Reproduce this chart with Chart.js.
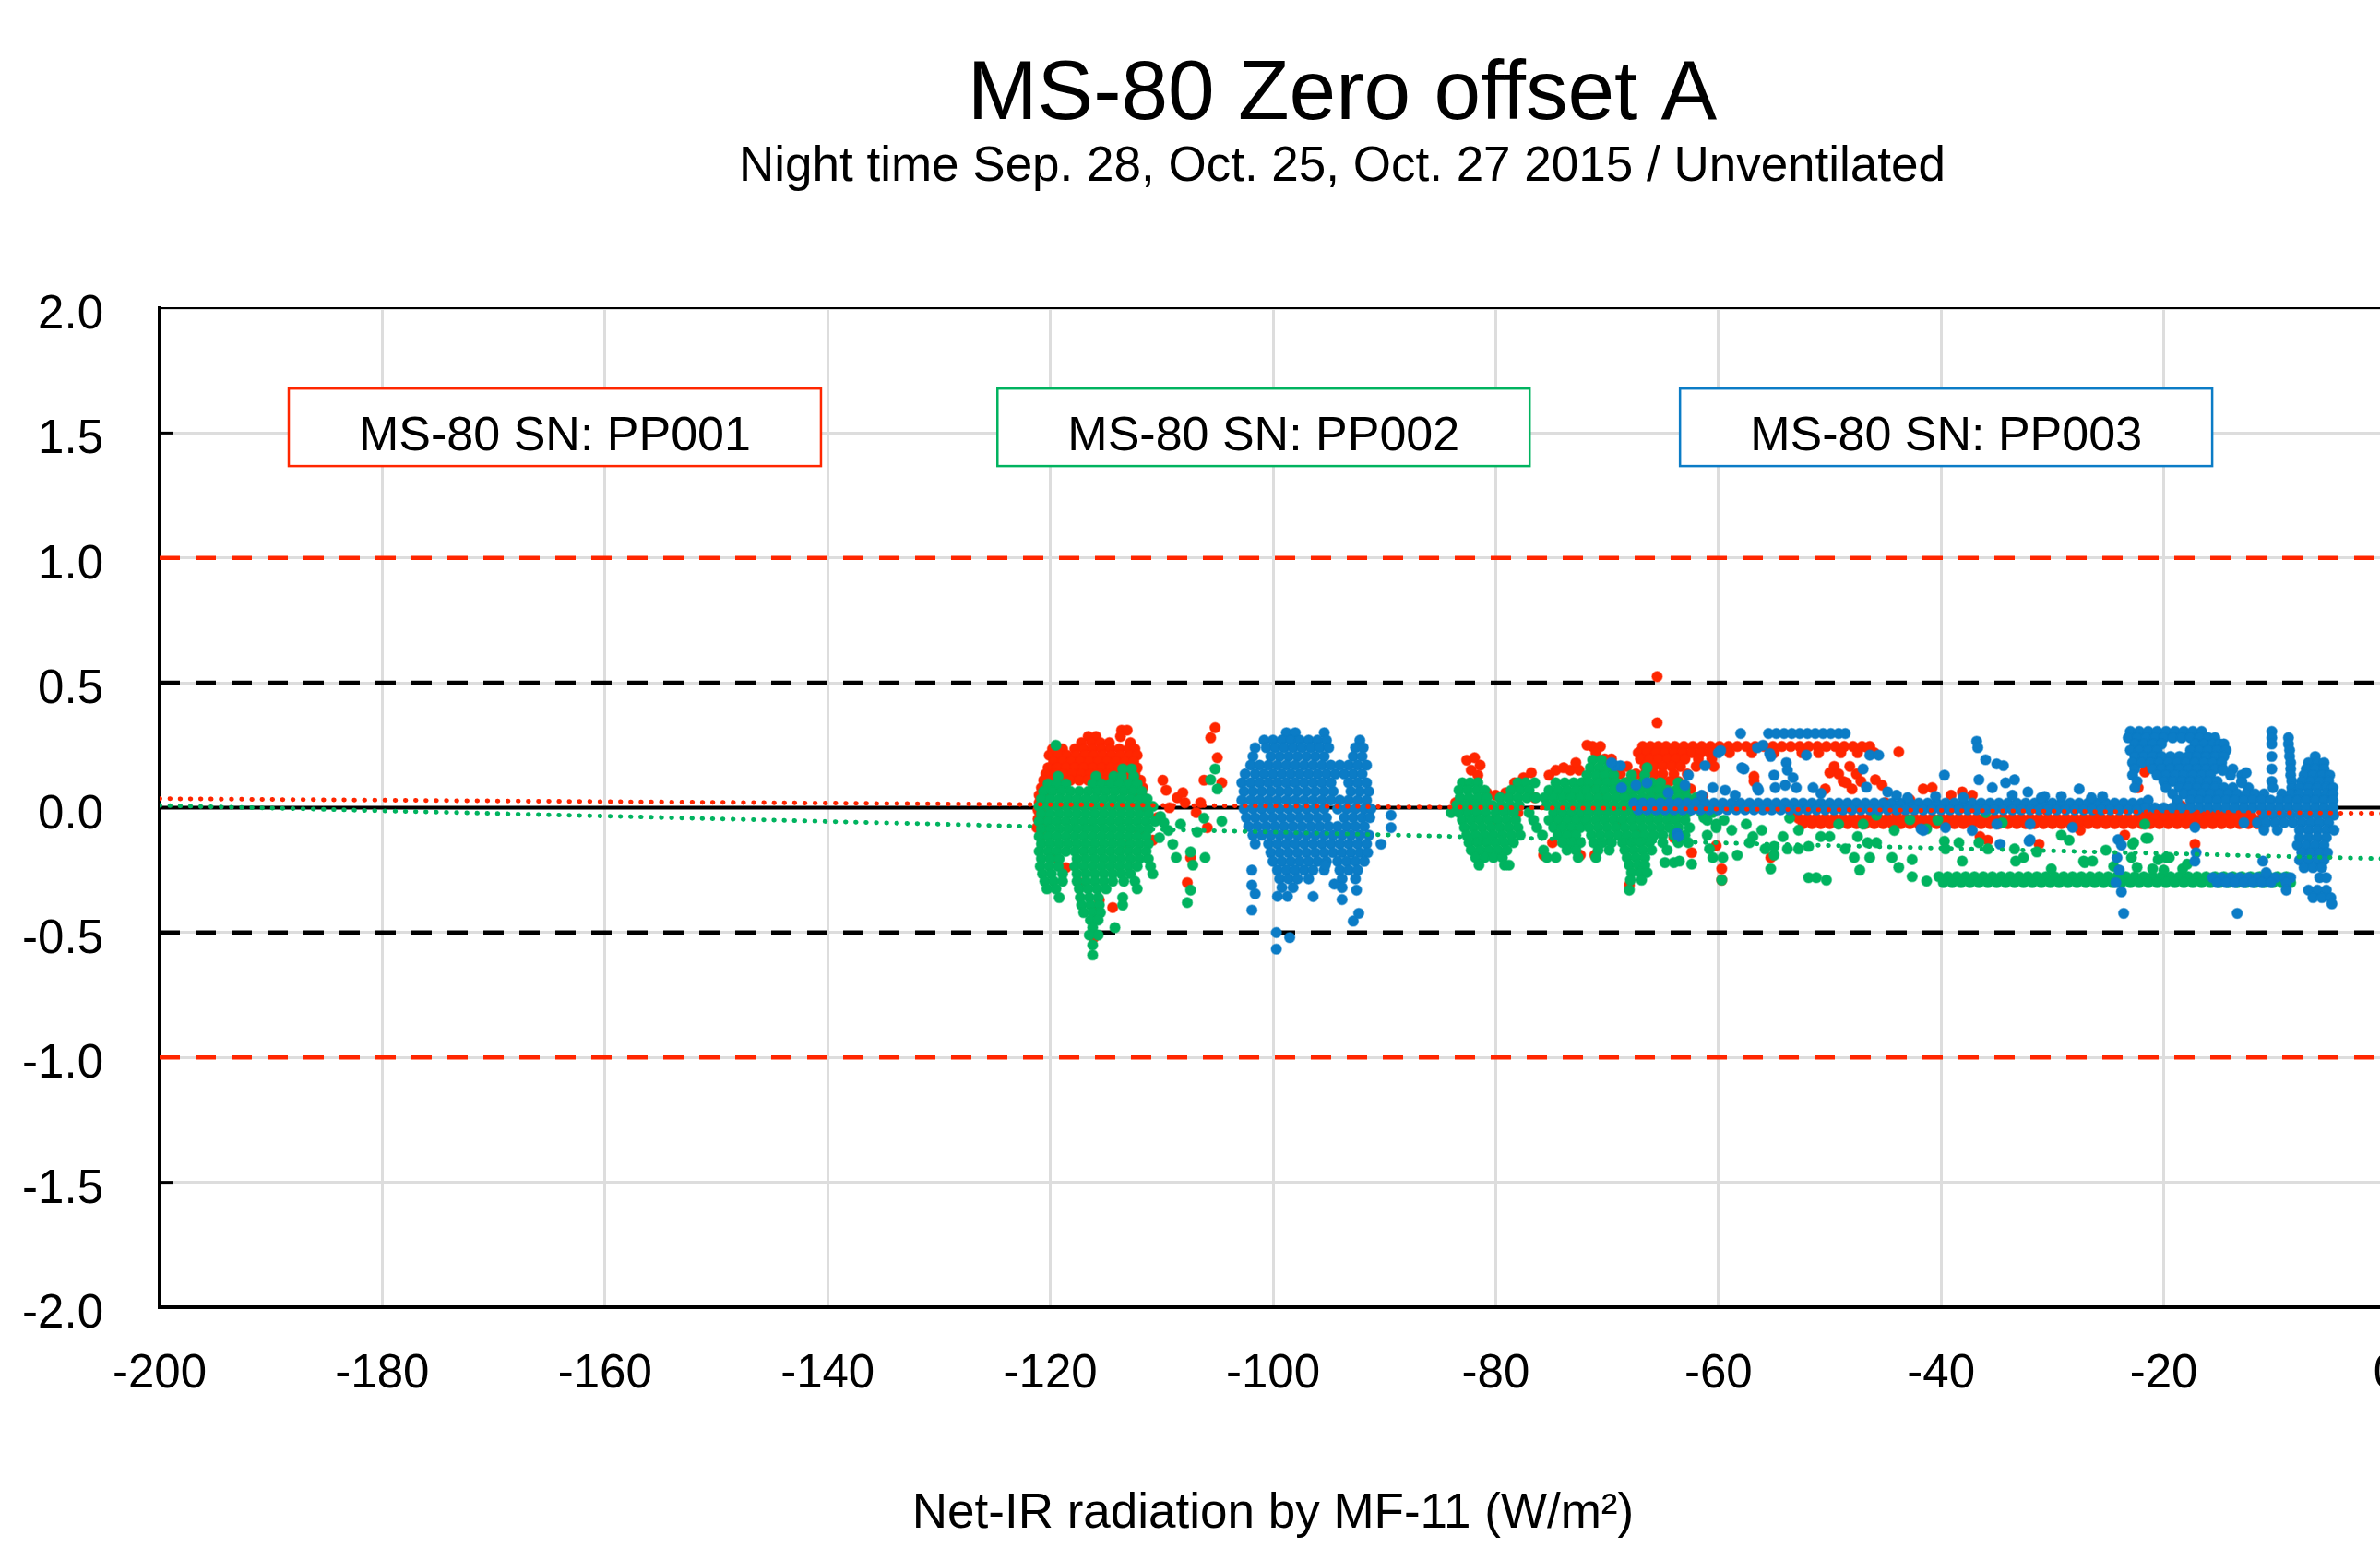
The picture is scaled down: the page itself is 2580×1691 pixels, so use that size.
<!DOCTYPE html>
<html>
<head>
<meta charset="utf-8">
<script src="https://cdn.jsdelivr.net/npm/chart.js@4.4.1/dist/chart.umd.min.js"></script>
<style>
html,body{margin:0;padding:0;background:#fff;overflow:hidden;}
#frame{position:relative;width:2580px;height:1691px;overflow:hidden;background:#fff;}
#c{position:absolute;left:0;top:0;}
</style>
</head>
<body>
<div id="frame"><canvas id="c" width="2910" height="1691" style="width:2910px;height:1691px"></canvas></div>
<script>
// ---------- DATA ----------
const titleText = 'MS-80 Zero offset A';
const subtitleText = 'Night time Sep. 28, Oct. 25, Oct. 27 2015 / Unventilated';
const xAxisTitle = 'Net-IR radiation by MF-11 (W/m²)';
const seriesLabels = ['MS-80 SN: PP001', 'MS-80 SN: PP002', 'MS-80 SN: PP003'];
const xTickRange = [-200, 0, 20];      // min, max, step
const yTickRange = [-2, 2, 0.5];

// Horizontal reference levels
const redLimitLevels = [1, -1];
const blackLimitLevels = [0.5, -0.5];
const zeroLevels = [0];

// Linear trend lines (end points)
const trendPP001 = [[-200, 0.036], [0, -0.023]];
const trendPP002 = [[-200, 0.009], [0, -0.205]];

// Rows: [y, x1, x2, ...]   Pairs: [x, y]
const redRows = [
 [0.31, -113.6, -113.1],
 [0.285, -116.6, -115.9, -113.7],
 [0.26, -117.2, -116.3, -115.5, -114.7, -112.8],
 [0.235, -119.8, -118.9, -117.8, -117.0, -116.2, -115.4, -114.6, -113.8, -113.0, -112.4],
 [0.21, -120.1, -119.3, -118.5, -117.7, -116.9, -116.1, -115.3, -114.5, -113.7, -112.9, -112.2],
 [0.185, -119.7, -118.9, -118.1, -117.3, -116.5, -115.7, -114.9, -114.1, -113.3, -112.5],
 [0.16, -120.2, -119.4, -118.6, -117.8, -117.0, -116.2, -115.4, -114.6, -113.8, -113.0, -112.2],
 [0.135, -120.4, -119.6, -118.8, -118.0, -117.2, -116.4, -115.6, -114.8, -114.0, -113.2, -112.4],
 [0.11, -120.6, -119.8, -119.0, -118.2, -117.4, -116.6, -115.8, -115.0, -114.2, -113.4, -112.6, -111.9],
 [0.08, -120.8, -120.0, -119.2, -113.0, -112.3, -111.7],
 [0.05, -121.0, -120.3, -112.5, -111.8],
 [0.02, -121.0, -120.4, -111.6],
 [-0.01, -121.1, -120.5, -111.5],
 [-0.045, -121.1, -120.5],
 [-0.08, -121.2, -120.6],
 [-0.115, -120.9],
 [0.245, -71.3, -70.6, -66.8, -66.1, -65.4, -64.7, -63.9, -63.1, -62.3, -61.5, -60.7, -59.9, -59.1, -58.3, -57.5, -56.7, -55.9, -55.1, -54.3, -53.5, -52.7, -51.9, -51.1, -50.3, -49.5, -48.7, -47.9, -47.1, -46.4],
 [0.22, -71.0, -67.2, -66.4, -65.6, -64.8, -64.0, -63.2, -62.4, -61.6, -60.8, -59.0, -57.0, -55.0, -52.5, -51.0, -49.0, -47.5, -46.0],
 [0.195, -70.2, -69.6, -67.0, -66.2, -65.4, -64.6, -63.8, -63.0, -61.8, -60.6],
 [0.165, -69.4, -68.2, -66.6, -65.8, -65.0, -64.2, -63.4, -62.0, -60.4, -49.6, -48.2],
 [0.135, -70.5, -68.8, -67.4, -66.6, -65.8, -65.0, -64.0, -62.8, -49.2, -47.6],
 [0.105, -69.8, -68.0, -66.8, -65.2, -64.4, -63.6, -56.8, -48.8, -47.2],
 [0.075, -71.0, -69.2, -67.6, -65.8, -64.8, -62.5, -50.4, -48.0],
 [0.045, -70.2, -68.4, -66.0, -63.2, -61.4],
 [-0.025, -21.8, -21.0, -20.2, -19.4, -18.6, -17.8, -17.0, -16.2, -15.4, -14.6, -13.8, -13.0, -12.2],
 [-0.043, -52.8, -52.0, -51.2, -50.4, -49.6, -48.8, -48.0, -47.2, -46.4, -45.6, -44.8, -44.0, -43.2, -42.4, -41.6, -40.8, -40.0, -39.2, -38.4, -37.6, -36.8, -36.0, -35.2, -34.4, -33.6, -32.8, -32.0, -31.2, -30.4, -29.6, -28.8, -28.0, -27.2, -26.4, -25.6, -24.8, -24.0, -23.2, -22.4, -21.6, -20.8, -20.0, -19.2, -18.4, -17.6, -16.8, -16.0, -15.2, -14.4, -13.6, -12.8, -12.0, -11.2],
 [-0.064, -52.4, -51.6, -50.8, -50.0, -49.2, -48.4, -47.6, -46.8, -46.0, -45.2, -44.4, -43.6, -42.8, -42.0, -41.2, -40.4, -39.6, -38.8, -38.0, -37.2, -36.4, -35.6, -34.8, -34.0, -33.2, -32.4, -31.6, -30.8, -30.0, -29.2, -28.4, -27.6, -26.8, -26.0, -25.2, -24.4, -23.6, -22.8, -22.0, -21.2, -20.4, -19.6, -18.8, -18.0, -17.2, -16.4, -15.6, -14.8, -14.0, -13.2, -12.4, -11.6]
];
const redPairs = [
 [-109.9, 0.11], [-109.6, 0.07], [-108.6, 0.04], [-108.1, 0.06], [-107.9, 0.02], [-106.5, 0.02], [-106.2, 0.11],
 [-105.2, 0.32], [-105.6, 0.28], [-105.0, 0.20], [-104.6, 0.10], [-107.7, -0.30], [-107.4, -0.20], [-110.8, -0.13],
 [-110.4, -0.04], [-109.3, 0.0], [-106.9, -0.02], [-105.9, -0.08], [-118.6, -0.24], [-119.6, -0.2], [-116.0, -0.41],
 [-115.6, -0.37], [-114.4, -0.40], [-116.1, -0.52], [-117.4, -0.3], [-113.0, -0.15], [-112.0, -0.1],
 [-83.6, 0.02], [-82.9, 0.0], [-82.6, 0.19], [-81.9, 0.2], [-81.4, 0.17], [-82.2, 0.15], [-81.6, 0.13], [-80.8, 0.06],
 [-80.0, 0.05], [-79.1, 0.06], [-78.3, 0.10], [-77.5, 0.12], [-76.8, 0.14], [-75.2, 0.13], [-74.6, 0.15], [-73.9, 0.16],
 [-73.3, 0.15], [-72.5, 0.15], [-72.8, 0.18], [-71.8, 0.25], [-80.2, -0.05], [-74.9, -0.14], [-75.7, -0.19],
 [-72.4, -0.19], [-73.0, -0.1], [-78.0, -0.02], [-76.5, 0.04],
 [-65.5, 0.525], [-65.5, 0.34], [-69.1, -0.066], [-67.0, -0.1], [-62.4, -0.18], [-59.7, -0.245], [-59.7, -0.29], [-68.0, -0.31],
 [-71.1, -0.19], [-60.2, -0.152], [-55.3, -0.20], [-64.0, -0.12], [-57.5, 0.0], [-53.0, -0.03], [-50.0, 0.14],
 [-48.5, 0.10], [-46.6, 0.24], [-45.9, 0.112], [-45.3, 0.09], [-43.8, 0.223], [-41.6, 0.075], [-40.8, 0.08],
 [-39.1, 0.05], [-38.1, 0.063], [-37.2, 0.05], [-42.8, 0.032], [-36.5, -0.116], [-35.8, -0.13], [-31.2, -0.146],
 [-23.5, -0.11], [-17.2, -0.146], [-21.7, 0.143], [-21.7, 0.18], [-22.3, 0.08], [-18.4, 0.007], [-56.8, 0.125],
 [-45.0, 0.02], [-44.0, -0.02], [-30.5, -0.01], [-26.0, -0.02], [-27.5, -0.09], [-21.9, -0.04]
];

const greenRows = [
 [0.155, -113.5, -112.7],
 [0.125, -119.3, -115.9, -114.3, -113.6, -112.5],
 [0.095, -120.2, -119.4, -118.6, -116.2, -115.4, -114.6, -113.8, -113.0, -112.2],
 [0.065, -120.6, -119.8, -119.0, -118.2, -117.4, -116.6, -115.8, -115.0, -114.2, -113.4, -112.6, -111.8],
 [0.035, -120.8, -120.0, -119.2, -118.4, -117.6, -116.8, -116.0, -115.2, -114.4, -113.6, -112.8, -112.0, -111.3],
 [0.005, -121.0, -120.2, -119.4, -118.6, -117.8, -117.0, -116.2, -115.4, -114.6, -113.8, -113.0, -112.2, -111.4, -110.8],
 [-0.025, -120.8, -120.0, -119.2, -118.4, -117.6, -116.8, -116.0, -115.2, -114.4, -113.6, -112.8, -112.0, -111.2],
 [-0.055, -121.0, -120.2, -119.4, -118.6, -117.8, -117.0, -116.2, -115.4, -114.6, -113.8, -113.0, -112.2, -111.4, -110.6],
 [-0.085, -120.8, -120.0, -119.2, -118.4, -117.6, -116.8, -116.0, -115.2, -114.4, -113.6, -112.8, -112.0, -111.2],
 [-0.115, -121.0, -120.2, -119.4, -118.6, -117.8, -117.0, -116.2, -115.4, -114.6, -113.8, -113.0, -112.2, -111.4],
 [-0.145, -120.8, -120.0, -119.2, -118.4, -117.6, -116.8, -116.0, -115.2, -114.4, -113.6, -112.8, -112.0, -111.2],
 [-0.175, -121.0, -120.2, -119.4, -118.6, -117.8, -117.0, -116.2, -115.4, -114.6, -113.8, -113.0, -112.2, -111.4],
 [-0.205, -120.8, -120.0, -119.2, -117.6, -116.8, -116.0, -115.2, -114.4, -113.6, -112.8, -112.0, -111.2],
 [-0.235, -120.9, -120.1, -119.3, -117.8, -117.0, -116.2, -115.4, -114.6, -113.8, -113.0, -112.2, -111.0],
 [-0.265, -120.7, -119.9, -118.9, -117.6, -116.8, -116.0, -115.2, -114.4, -113.6, -112.8, -110.8],
 [-0.295, -120.5, -119.7, -118.9, -117.6, -116.8, -116.0, -115.2, -114.4, -113.4, -112.4],
 [-0.325, -120.3, -119.5, -117.4, -116.6, -115.8, -115.0, -112.2],
 [-0.36, -119.2, -117.3, -116.5, -115.7, -113.5],
 [-0.39, -117.2, -116.4, -115.6, -113.5],
 [-0.42, -117.0, -116.2, -115.5],
 [-0.45, -116.4, -115.7],
 [-0.48, -116.2, -114.2],
 [-0.51, -116.5, -115.7],
 [-0.55, -116.2],
 [-0.59, -116.2],
 [0.10, -83.0, -82.3, -81.6, -78.0, -77.3, -76.5, -74.6, -73.8, -73.0, -72.3],
 [0.07, -83.3, -82.5, -81.7, -81.0, -78.6, -77.8, -77.0, -75.2, -74.4, -73.6, -72.8, -72.0],
 [0.04, -83.2, -82.4, -81.6, -80.8, -79.6, -78.8, -78.0, -77.2, -76.4, -75.6, -74.8, -74.0, -73.2, -72.4],
 [0.01, -83.5, -82.7, -81.9, -81.1, -80.3, -79.5, -78.7, -77.9, -75.4, -74.6, -73.8, -73.0, -72.2],
 [-0.02, -84.0, -83.3, -82.5, -81.7, -80.9, -80.0, -79.2, -78.4, -77.0, -74.8, -74.0, -73.2, -72.4],
 [-0.05, -83.0, -82.2, -81.4, -80.6, -79.8, -79.0, -78.2, -76.6, -75.2, -74.4, -73.6, -72.8, -72.0],
 [-0.08, -82.8, -82.0, -81.2, -80.4, -79.6, -78.8, -78.0, -76.3, -74.8, -74.0, -73.2, -72.4],
 [-0.11, -82.6, -81.8, -81.0, -80.2, -79.4, -78.6, -77.8, -75.8, -74.4, -73.6, -72.8],
 [-0.14, -82.4, -81.6, -80.8, -80.0, -79.2, -78.4, -74.0, -73.2, -72.4],
 [-0.17, -82.2, -81.4, -80.6, -79.8, -79.0, -75.7, -73.6, -72.8],
 [-0.20, -81.8, -81.0, -80.2, -79.4, -75.4, -74.6, -72.6],
 [-0.23, -81.5, -79.2, -78.8],
 [0.19, -71.3, -70.5],
 [0.16, -71.5, -70.7, -69.9, -66.4],
 [0.13, -71.8, -71.0, -70.2, -69.4, -67.8, -66.6],
 [0.10, -71.6, -70.8, -70.0, -69.2, -68.4, -67.6, -66.8, -66.0, -65.2, -63.6],
 [0.07, -71.8, -71.0, -70.2, -69.4, -68.6, -67.8, -67.0, -66.2, -65.4, -64.6, -63.8, -63.0],
 [0.04, -71.6, -70.8, -70.0, -69.2, -68.4, -67.6, -66.8, -66.0, -65.2, -64.4, -63.6, -62.8, -62.0],
 [0.01, -71.8, -71.0, -70.2, -69.4, -68.6, -67.8, -67.0, -66.2, -65.4, -64.6, -63.8, -63.0],
 [-0.02, -71.6, -70.8, -70.0, -69.2, -68.4, -67.6, -66.8, -66.0, -65.2, -64.4, -63.6, -62.8, -61.5, -60.5],
 [-0.05, -71.8, -71.0, -70.2, -69.4, -68.6, -67.8, -67.0, -66.2, -65.4, -64.6, -63.8, -63.0, -61.0, -59.5],
 [-0.08, -71.6, -70.8, -70.0, -69.2, -68.4, -67.6, -66.8, -66.0, -65.2, -64.4, -63.6, -62.6, -60.2],
 [-0.11, -71.4, -70.6, -69.8, -69.0, -68.2, -67.4, -66.6, -65.8, -65.0, -64.0, -63.0, -61.0],
 [-0.14, -71.2, -70.4, -69.6, -68.6, -67.8, -67.0, -66.2, -65.0, -63.6],
 [-0.17, -70.8, -69.8, -68.4, -67.6, -66.8, -66.0, -64.6],
 [-0.20, -71.0, -68.2, -67.4, -66.6],
 [-0.22, -64.8, -64.0],
 [-0.23, -68.0, -67.2, -66.6],
 [-0.26, -67.8, -67.0, -66.4],
 [-0.29, -67.9, -66.9],
 [-0.33, -68.0],
 [-0.276, -40.2, -39.4, -38.6, -37.8, -37.0, -36.2, -35.4, -34.6, -33.8, -33.0, -32.2, -31.4, -30.6, -29.8, -29.0, -28.2, -27.4, -26.6, -25.8, -25.0, -24.2, -23.4, -22.6, -21.8, -21.0, -20.2, -19.4, -18.6, -17.8, -17.0, -16.2, -15.4, -14.6, -13.8, -13.0, -12.2, -11.4, -10.6, -9.8, -9.0],
 [-0.300, -39.8, -39.0, -38.2, -37.4, -36.6, -35.8, -35.0, -34.2, -33.4, -32.6, -31.8, -31.0, -30.2, -29.4, -28.6, -27.8, -27.0, -26.2, -25.4, -24.6, -23.8, -23.0, -22.2, -21.4, -20.6, -19.8, -19.0, -18.2, -17.4, -16.6, -15.8, -15.0, -14.2, -13.4, -12.6, -11.8, -11.0, -10.2, -9.4, -8.6]
];
const greenPairs = [
 [-119.5, 0.25],
 [-105.2, 0.155], [-105.6, 0.112], [-105.0, 0.075], [-104.6, -0.054], [-106.2, -0.042], [-106.8, -0.097],
 [-107.4, -0.177], [-108.7, -0.2], [-107.2, -0.23], [-107.4, -0.33], [-107.7, -0.38], [-109.0, -0.146],
 [-109.4, -0.091], [-110.1, -0.035], [-108.3, -0.066], [-106.1, -0.2], [-110.2, -0.12], [-109.8, -0.06],
 [-61.3, -0.04], [-60.2, -0.066], [-60.8, -0.165], [-60.5, -0.2], [-59.6, -0.2], [-59.7, -0.29], [-58.8, -0.09],
 [-58.3, -0.19], [-57.5, -0.066], [-56.9, -0.116], [-56.1, -0.09], [-55.3, -0.245], [-55.0, -0.19], [-54.2, -0.116],
 [-53.6, -0.042], [-52.8, -0.09], [-51.9, -0.28], [-51.2, -0.28], [-50.3, -0.29], [-50.8, -0.116], [-50.0, -0.116],
 [-49.2, -0.066], [-48.6, -0.165], [-47.8, -0.2], [-47.3, -0.25], [-47.5, -0.116], [-57.2, -0.14], [-62.7, -0.14],
 [-63.5, -0.214], [-62.4, -0.226], [-55.8, -0.165], [-55.0, -0.155], [-52.8, -0.165], [-51.9, -0.155], [-53.8, -0.165],
 [-47.0, -0.066], [-44.2, -0.091], [-46.6, -0.14], [-45.8, -0.14], [-46.4, -0.2], [-44.4, -0.2], [-43.8, -0.239],
 [-42.6, -0.208], [-42.6, -0.276], [-41.3, -0.294], [-39.7, -0.134], [-39.6, -0.165], [-38.4, -0.14], [-38.1, -0.214],
 [-36.6, -0.14], [-35.8, -0.165], [-33.4, -0.165], [-32.6, -0.2], [-33.3, -0.214], [-31.4, -0.177], [-30.1, -0.245],
 [-29.2, -0.11], [-27.2, -0.214], [-26.4, -0.214], [-22.7, -0.14], [-22.9, -0.2], [-22.4, -0.239], [-42.8, -0.048],
 [-41.3, -0.085], [-21.7, -0.066], [-21.6, -0.122], [-20.5, -0.208], [-19.5, -0.2], [-21.0, -0.245], [-18.3, -0.245],
 [-45.8, -0.03], [-40.3, -0.05], [-36.0, -0.02], [-34.5, -0.06], [-28.5, -0.13], [-25.2, -0.17], [-24.5, -0.235],
 [-20.0, -0.25], [-27.1, -0.22], [-22.8, -0.146], [-21.4, -0.122], [-19.8, -0.2], [-17.9, -0.226]
];

const blueRows = [
 [0.30, -98.8, -98.0, -95.4],
 [0.27, -100.8, -100.0, -99.2, -98.4, -97.6, -96.8, -96.0, -95.2, -92.2],
 [0.24, -101.6, -100.6, -99.8, -99.0, -98.2, -97.4, -96.6, -95.8, -95.0, -92.6, -91.9],
 [0.205, -101.8, -100.2, -99.4, -98.6, -97.8, -97.0, -96.2, -95.4, -92.8, -92.0],
 [0.17, -102.0, -101.2, -100.4, -99.6, -98.8, -98.0, -97.2, -96.4, -95.6, -94.8, -94.0, -93.2, -92.4, -91.6],
 [0.135, -102.5, -101.6, -100.8, -100.0, -99.2, -98.4, -97.6, -96.8, -96.0, -95.2, -94.4, -93.6, -92.8, -92.0],
 [0.10, -102.8, -102.0, -101.2, -100.4, -99.6, -98.8, -98.0, -97.2, -96.4, -95.6, -94.8, -93.2, -92.4, -91.6],
 [0.065, -102.6, -101.8, -101.0, -100.2, -99.4, -98.6, -97.8, -97.0, -96.2, -95.4, -94.6, -93.0, -92.2, -91.4],
 [0.03, -102.8, -102.0, -101.2, -100.4, -99.6, -98.8, -98.0, -97.2, -96.4, -95.6, -94.8, -94.0, -93.2, -92.4, -91.6],
 [-0.005, -102.6, -101.8, -101.0, -100.2, -99.4, -98.6, -97.8, -97.0, -96.2, -95.4, -94.2, -93.4, -92.6, -91.8, -91.2],
 [-0.04, -102.4, -101.6, -100.8, -100.0, -99.2, -98.4, -97.6, -96.8, -96.0, -95.2, -93.6, -92.8, -92.0, -91.3],
 [-0.075, -102.2, -101.4, -100.6, -99.8, -99.0, -98.2, -97.4, -96.6, -95.8, -95.0, -94.2, -93.4, -92.6, -91.8],
 [-0.11, -101.8, -101.0, -100.2, -99.4, -98.6, -97.8, -97.0, -96.2, -95.4, -94.6, -93.8, -93.0, -92.2, -91.4],
 [-0.145, -101.6, -100.4, -99.6, -98.8, -98.0, -97.2, -96.4, -95.6, -94.8, -94.0, -93.2, -92.4, -91.6],
 [-0.18, -100.2, -99.4, -98.6, -97.8, -97.0, -96.2, -95.4, -94.6, -93.8, -93.0, -92.2, -91.5],
 [-0.215, -100.0, -99.2, -98.4, -97.6, -96.8, -96.0, -95.2, -94.2, -93.4, -92.6, -91.8],
 [-0.25, -99.6, -98.8, -98.0, -97.2, -96.4, -95.4, -94.0, -93.2, -92.4],
 [-0.285, -99.4, -98.6, -97.8, -96.8, -93.8, -92.6],
 [-0.32, -99.2, -98.2, -93.8],
 [-0.355, -99.6, -98.7],
 [0.297, -58.0, -55.5, -54.8, -54.1, -53.4, -52.7, -52.0, -51.3, -50.6, -49.9, -49.2, -48.6],
 [0.018, -67.6, -66.8, -66.0, -65.2, -64.4, -63.6, -62.8, -62.0, -61.2, -60.4, -59.6, -58.8, -58.0, -57.2, -56.4, -55.6, -54.8, -54.0, -53.2, -52.4, -51.6, -50.8, -50.0, -49.2, -48.4, -47.6, -46.8, -46.0, -45.2, -44.4, -43.6, -42.8, -42.0, -41.2, -40.4, -39.6, -38.8, -38.0, -37.2, -36.4, -35.6, -34.8, -34.0, -33.2, -32.4, -31.6, -30.8, -30.0, -29.2, -28.4, -27.6, -26.8, -26.0, -25.2, -24.4, -23.6, -22.8, -22.0],
 [-0.008, -67.2, -66.4, -65.6, -64.8, -64.0, -63.2, -62.4, -61.6, -60.8, -60.0, -59.2, -58.4, -57.6, -56.8, -56.0, -55.2, -54.4, -53.6, -52.8, -52.0, -51.2, -50.4, -49.6, -48.8, -48.0, -47.2, -46.4, -45.6, -44.8, -44.0, -43.2, -42.4, -41.6, -40.8, -40.0, -39.2, -38.4, -37.6, -36.8, -36.0, -35.2, -34.4, -33.6, -32.8, -32.0, -31.2, -30.4, -29.6, -28.8, -28.0, -27.2, -26.4, -25.6, -24.8, -24.0, -23.2, -22.4],
 [0.305, -23.0, -22.2, -21.4, -20.6, -19.8, -19.0, -18.2, -17.4, -16.6, -10.3],
 [0.28, -23.2, -22.4, -21.6, -20.8, -20.0, -19.2, -18.4, -17.6, -16.8, -16.0, -15.4, -10.3, -8.8],
 [0.255, -22.6, -21.8, -21.0, -20.2, -17.2, -16.4, -15.6, -15.0, -14.6, -10.3, -8.8],
 [0.23, -23.0, -22.2, -21.4, -20.6, -17.6, -16.8, -16.0, -15.2, -14.4, -8.7],
 [0.205, -22.6, -21.8, -21.0, -20.2, -19.4, -18.6, -17.8, -17.0, -16.2, -15.4, -14.6, -10.3, -8.7, -6.4],
 [0.18, -22.8, -22.0, -21.2, -20.4, -19.6, -18.8, -18.0, -17.2, -16.4, -15.6, -14.8, -8.6, -7.0, -6.2, -5.6],
 [0.155, -22.6, -21.0, -20.2, -19.4, -18.6, -17.8, -17.0, -16.2, -15.4, -14.7, -13.8, -10.3, -8.6, -7.2, -6.4, -5.6],
 [0.13, -22.8, -20.6, -19.8, -19.0, -18.2, -17.4, -16.6, -15.8, -14.0, -13.0, -8.6, -7.4, -6.6, -5.8, -5.1],
 [0.105, -22.4, -20.0, -19.2, -18.4, -17.6, -16.8, -16.0, -15.2, -13.0, -10.3, -8.5, -7.6, -6.8, -6.0, -5.2],
 [0.08, -22.6, -19.8, -18.6, -17.8, -17.0, -16.2, -15.4, -14.6, -13.8, -12.4, -10.2, -8.5, -7.8, -7.0, -6.2, -5.4, -4.8],
 [0.055, -19.2, -18.2, -17.4, -16.6, -15.8, -15.0, -14.2, -13.4, -12.6, -11.8, -11.0, -9.4, -8.6, -7.8, -7.0, -6.2, -5.4, -4.8],
 [0.03, -21.4, -18.8, -17.6, -16.8, -16.0, -15.2, -14.4, -13.6, -12.8, -12.0, -11.2, -10.4, -9.6, -8.8, -8.0, -7.2, -6.4, -5.6, -4.8],
 [0.0, -21.6, -20.8, -20.0, -19.2, -18.4, -17.6, -16.8, -16.0, -15.2, -14.4, -13.6, -12.8, -12.0, -11.2, -10.4, -9.6, -8.8, -8.0, -7.2, -6.4, -5.6, -4.8],
 [-0.03, -11.0, -10.2, -9.4, -8.6, -7.8, -7.0, -6.2, -5.4, -4.7],
 [-0.06, -12.8, -11.6, -10.8, -10.0, -9.2, -8.4, -7.6, -6.8, -6.0, -5.2],
 [-0.09, -11.0, -9.8, -7.8, -7.0, -6.2, -5.4, -4.7],
 [-0.12, -7.8, -7.0, -6.2, -5.4],
 [-0.15, -8.0, -7.2, -6.4, -5.6],
 [-0.18, -7.6, -6.8, -6.0, -5.3],
 [-0.21, -7.8, -7.0, -6.2, -5.6],
 [-0.24, -7.4, -6.6, -5.8],
 [-0.28, -15.6, -14.8, -14.0, -13.2, -12.4, -11.6, -10.8, -10.0, -9.2, -8.6, -6.0, -5.4],
 [-0.30, -15.2, -14.4, -13.6, -12.8, -12.0, -11.2, -10.4, -9.0],
 [-0.33, -9.0, -7.0, -6.2, -5.4],
 [-0.36, -6.6, -5.8, -5.0],
 [-0.385, -4.9]
];
const bluePairs = [
 [-101.9, -0.25], [-101.9, -0.31], [-101.6, -0.345], [-101.9, -0.41], [-99.7, -0.50], [-99.7, -0.566], [-98.5, -0.52],
 [-89.4, -0.03], [-89.4, -0.08], [-90.3, -0.146], [-96.4, -0.356], [-94.5, -0.306], [-93.8, -0.368], [-92.8, -0.454],
 [-92.3, -0.423], [-92.5, -0.33], [-95.3, -0.23],
 [-60.0, 0.22], [-61.2, 0.168], [-57.7, 0.155], [-55.3, 0.205], [-53.9, 0.18], [-53.8, 0.15], [-55.0, 0.13], [-52.1, 0.21],
 [-53.0, 0.08], [-54.0, 0.09], [-56.5, 0.24], [-56.0, 0.25], [-60.5, 0.08], [-59.4, 0.07], [-62.7, 0.13], [-63.0, 0.09],
 [-68.8, 0.168], [-69.3, 0.168], [-66.4, 0.10], [-67.4, 0.09], [-68.7, 0.08], [-56.4, 0.07], [-50.8, 0.057], [-63.7, -0.103],
 [-69.6, 0.18], [-59.8, 0.229], [-55.4, 0.217], [-57.9, 0.16], [-53.3, 0.12], [-56.5, 0.08], [-54.9, 0.08], [-51.5, 0.08],
 [-46.7, 0.082], [-47.0, 0.155], [-46.4, 0.21], [-45.6, 0.21], [-44.8, 0.063], [-39.7, 0.13], [-36.8, 0.266], [-36.7, 0.24],
 [-36.0, 0.192], [-35.0, 0.175], [-34.4, 0.168], [-36.6, 0.112], [-35.4, 0.08], [-34.2, 0.10], [-33.4, 0.112], [-33.6, 0.05],
 [-32.2, 0.063], [-30.7, 0.045], [-29.2, 0.045], [-27.6, 0.075], [-34.7, -0.146], [-32.1, -0.134], [-28.2, -0.079],
 [-41.6, -0.091], [-37.2, -0.091], [-32.0, -0.066], [-35.0, -0.066], [-41.8, -0.085], [-39.6, -0.08], [-32.0, -0.128],
 [-63.6, -0.115], [-58.5, 0.05], [-61.5, 0.05], [-64.5, 0.06], [-44.0, 0.05], [-43.0, 0.04], [-40.5, 0.045], [-38.0, 0.04],
 [-31.0, 0.04], [-25.5, 0.045], [-26.5, 0.04],
 [-24.1, -0.128], [-23.8, -0.15], [-24.2, -0.2], [-24.0, -0.25], [-24.3, -0.30], [-23.8, -0.337], [-23.6, -0.423],
 [-13.4, -0.423], [-17.2, -0.079], [-17.2, -0.214], [-17.1, -0.18], [-11.1, -0.214], [-10.8, -0.26], [-14.7, 0.149],
 [-13.0, 0.10], [-12.6, 0.14]
];

// ---------- helpers ----------
function rowsToPoints(rows) {
  const out = [];
  rows.forEach(r => { for (let i = 1; i < r.length; i++) out.push({x: r[i], y: r[0]}); });
  return out;
}
function pairsToPoints(p) { return p.map(([x, y]) => ({x, y})); }
function levelLine(v) { return [{x: xTickRange[0], y: v}, {x: xTickRange[1], y: v}]; }

const RED = '#ff2600', GREEN = '#00b35f', BLUE = '#0b7cc6';
const FONT = "'Liberation Sans', Arial, Helvetica, sans-serif";
Chart.defaults.font.family = FONT;
Chart.defaults.color = '#000';

function pointSet(label, rows, pairs, color, soft, order) {
  return {
    label, order,
    data: rowsToPoints(rows).concat(pairsToPoints(pairs)),
    backgroundColor: color, borderColor: soft, borderWidth: 1.4,
    pointRadius: 5.6, pointHoverRadius: 5.6, showLine: false
  };
}
function lineSet(label, data, color, width, dash, order, cap) {
  return {
    label, order, data, showLine: true, pointRadius: 0, pointHoverRadius: 0,
    borderColor: color, backgroundColor: color, borderWidth: width,
    borderDash: dash, borderCapStyle: cap || 'butt', fill: false, tension: 0
  };
}

const datasets = [
  lineSet('trend PP001', pairsToPoints(trendPP001), RED, 5, [0.5, 10.6], 0, 'round'),
  lineSet('trend PP002', pairsToPoints(trendPP002), GREEN, 5, [0.5, 10.6], 0, 'round'),
  pointSet(seriesLabels[2], blueRows, bluePairs, BLUE, 'rgba(11,124,198,0.5)', 1),
  pointSet(seriesLabels[1], greenRows, greenPairs, GREEN, 'rgba(0,179,95,0.5)', 2),
  pointSet(seriesLabels[0], redRows, redPairs, RED, 'rgba(255,38,0,0.5)', 3)
];
redLimitLevels.forEach(v => datasets.push(lineSet('limit ' + v, levelLine(v), RED, 4.5, [22, 17], 5)));
blackLimitLevels.forEach(v => datasets.push(lineSet('limit ' + v, levelLine(v), '#000', 5, [22, 17], 5)));
zeroLevels.forEach(v => datasets.push(lineSet('zero', levelLine(v), '#000', 4, [], 6)));

// Layout of the three label boxes (data coordinates of box centres, box size)
const BOX = {cx: [-164.5, -100.85, -39.55], cy: 1.523, w: 47.8, h: 0.31};
const BOX_COLORS = [RED, GREEN, BLUE];

const decor = {
  id: 'decor',
  beforeDatasetsDraw(chart) {
    const {ctx, chartArea: a, scales: {y}} = chart;
    ctx.save();
    ctx.strokeStyle = '#000';
    ctx.lineWidth = 3;
    y.ticks.forEach(t => {
      if (Math.abs(t.value) >= 2) return;
      const py = y.getPixelForValue(t.value);
      ctx.beginPath(); ctx.moveTo(a.left, py); ctx.lineTo(a.left + 15, py); ctx.stroke();
    });
    ctx.lineWidth = 2;
    ctx.beginPath(); ctx.moveTo(a.left, a.top); ctx.lineTo(a.right, a.top); ctx.stroke();
    ctx.restore();
  },
  afterDatasetsDraw(chart) {
    const {ctx, scales: {x, y}} = chart;
    ctx.save();
    seriesLabels.forEach((lab, i) => {
      const l = x.getPixelForValue(BOX.cx[i] - BOX.w / 2), r = x.getPixelForValue(BOX.cx[i] + BOX.w / 2);
      const t = y.getPixelForValue(BOX.cy + BOX.h / 2), b = y.getPixelForValue(BOX.cy - BOX.h / 2);
      ctx.fillStyle = '#fff';
      ctx.fillRect(l, t, r - l, b - t);
      ctx.strokeStyle = BOX_COLORS[i];
      ctx.lineWidth = 2.5;
      ctx.strokeRect(l, t, r - l, b - t);
      ctx.fillStyle = '#000';
      ctx.font = '52px ' + FONT;
      ctx.textAlign = 'center';
      ctx.textBaseline = 'middle';
      ctx.fillText(lab, (l + r) / 2, (t + b) / 2 + 11);
    });
    ctx.restore();
  }
};

new Chart(document.getElementById('c'), {
  type: 'scatter',
  data: {datasets},
  plugins: [decor],
  options: {
    responsive: false,
    animation: false,
    devicePixelRatio: 1,
    events: [],
    layout: {padding: 0},
    plugins: {
      legend: {display: false},
      tooltip: {enabled: false},
      title: {display: true, text: titleText, color: '#000',
              font: {size: 91, weight: 'normal', lineHeight: 1.0}, padding: {top: 58.5, bottom: 0}},
      subtitle: {display: true, text: subtitleText, color: '#000',
                 font: {size: 53, weight: 'normal', lineHeight: 1.2}, padding: {top: 0, bottom: 120.9}}
    },
    scales: {
      x: {
        type: 'linear', position: 'bottom',
        min: xTickRange[0], max: xTickRange[1],
        ticks: {stepSize: xTickRange[2], autoSkip: false, maxRotation: 0, font: {size: 51}, padding: 42.5, color: '#000'},
        grid: {color: '#dddddd', lineWidth: 3, drawTicks: false},
        border: {color: '#000', width: 4},
        title: {display: true, text: xAxisTitle, font: {size: 53}, padding: {top: 60, bottom: 17.5}, color: '#000'},
        afterFit: s => { s.height = 274; }
      },
      y: {
        type: 'linear', position: 'left',
        min: yTickRange[0], max: yTickRange[1],
        ticks: {stepSize: yTickRange[2], font: {size: 51}, padding: 61, labelOffset: 8, color: '#000',
                callback: v => Number(v).toFixed(1)},
        grid: {color: '#dddddd', lineWidth: 3, drawTicks: false},
        border: {color: '#000', width: 4},
        afterFit: s => { s.width = 173; }
      },
      yRight: {
        type: 'linear', position: 'right', display: true,
        ticks: {display: false}, grid: {display: false, drawTicks: false}, border: {display: false},
        afterFit: s => { s.width = 323; }
      }
    }
  }
});
</script>
</body>
</html>
